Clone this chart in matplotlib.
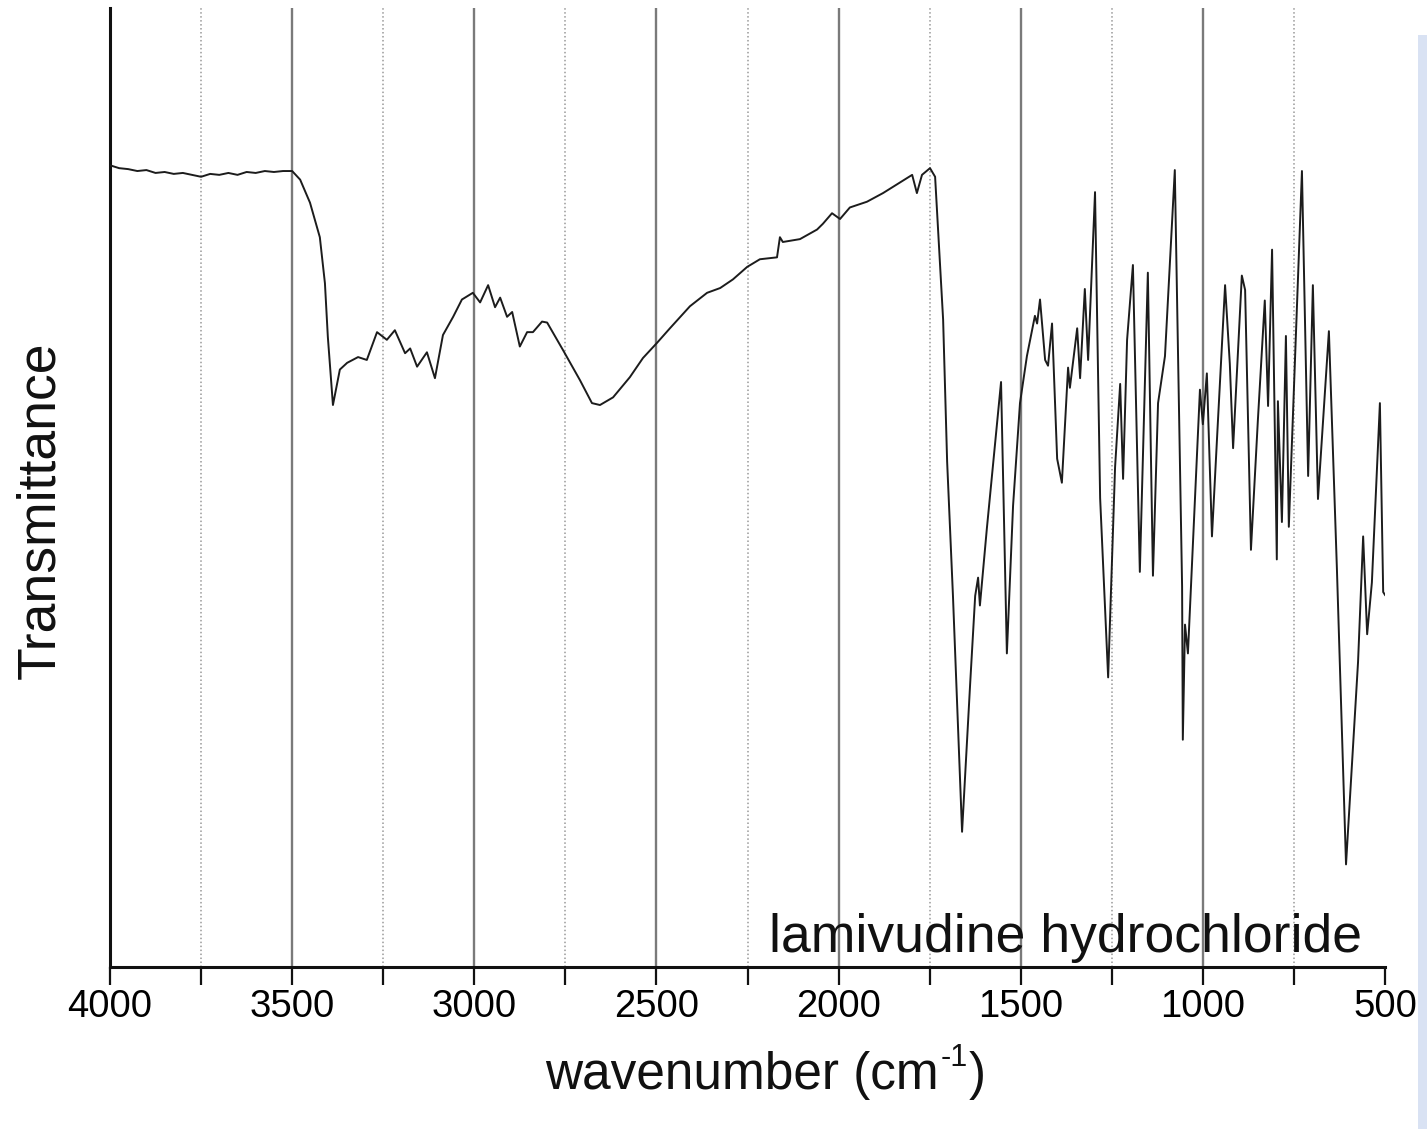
import matplotlib
matplotlib.use('Agg')
import matplotlib.pyplot as plt
from matplotlib.patches import Rectangle

plt.rcParams['font.family'] = ['Liberation Sans', 'DejaVu Sans']

# IR spectrum (wavenumber in cm-1, transmittance in arbitrary %)
wavenumber = [4000, 3975, 3950, 3925, 3900, 3875, 3850, 3825, 3800, 3775, 3750, 3725, 3700,
              3675, 3650, 3625, 3600, 3575, 3550, 3525, 3500, 3478, 3451, 3424, 3410, 3402,
              3388, 3369, 3349, 3319, 3295, 3267, 3240, 3218, 3190, 3176, 3157, 3130, 3108,
              3086, 3058, 3034, 3004, 2984, 2962, 2943, 2929, 2910, 2896, 2875, 2855, 2839,
              2814, 2800, 2756, 2710, 2677, 2655, 2619, 2573, 2537, 2498, 2463, 2408, 2361,
              2325, 2290, 2251, 2216, 2169, 2161, 2153, 2106, 2059, 2043, 2018, 1996, 1969,
              1922, 1878, 1823, 1798, 1785, 1771, 1749, 1735, 1722, 1713, 1702, 1686, 1661,
              1639, 1625, 1617, 1612, 1593, 1554, 1538, 1521, 1502, 1483, 1461, 1455, 1447,
              1433, 1425, 1414, 1400, 1387, 1370, 1365, 1345, 1337, 1324, 1315, 1296, 1282,
              1260, 1241, 1227, 1219, 1208, 1192, 1173, 1151, 1137, 1123, 1104, 1077, 1057,
              1055, 1049, 1041, 1008, 1000, 989, 975, 961, 939, 926, 917, 893, 884, 868, 849,
              830, 821, 810, 797, 794, 783, 772, 764, 728, 711, 698, 684, 654, 632, 607, 574,
              560, 549, 536, 514, 505, 500]
transmittance = [83.6, 83.3, 83.2, 83.0, 83.1, 82.8, 82.9, 82.7, 82.8, 82.6, 82.4, 82.7, 82.6,
                 82.8, 82.6, 82.9, 82.8, 83.0, 82.9, 83.0, 83.0, 82.1, 79.7, 76.1, 71.3, 65.7,
                 58.6, 62.3, 63.0, 63.6, 63.3, 66.2, 65.4, 66.4, 64.0, 64.5, 62.6, 64.1, 61.4,
                 65.9, 67.8, 69.6, 70.3, 69.3, 71.1, 68.8, 69.8, 67.8, 68.3, 64.7, 66.2, 66.2,
                 67.3, 67.2, 64.3, 61.2, 58.8, 58.6, 59.4, 61.5, 63.5, 65.1, 66.6, 68.9, 70.3,
                 70.8, 71.7, 73.0, 73.8, 74.0, 76.1, 75.6, 75.9, 76.9, 77.5, 78.6, 78.0, 79.2,
                 79.8, 80.7, 82.0, 82.6, 80.7, 82.6, 83.3, 82.4, 73.5, 67.5, 52.7, 38.7, 14.1,
                 29.4, 38.7, 40.6, 37.7, 45.7, 61.0, 32.7, 48.1, 58.8, 63.7, 67.9, 67.1, 69.6,
                 63.3, 62.7, 67.1, 53.0, 50.5, 62.5, 60.4, 66.6, 61.4, 70.7, 63.3, 80.8, 48.9,
                 30.2, 52.1, 60.8, 50.9, 65.4, 73.2, 41.2, 72.4, 40.8, 58.8, 63.7, 83.1, 39.7,
                 23.7, 35.7, 32.7, 60.2, 56.6, 61.9, 44.9, 55.2, 71.1, 62.9, 54.1, 72.1, 70.6,
                 43.5, 57.0, 69.5, 58.5, 74.8, 42.5, 59.0, 46.4, 65.8, 45.9, 83.0, 51.2, 71.1,
                 48.8, 66.3, 41.5, 10.7, 31.8, 44.9, 34.7, 40.1, 58.8, 39.1, 38.8]

major_ticks = [4000, 3500, 3000, 2500, 2000, 1500, 1000, 500]
solid_grid = [3500, 3000, 2500, 2000, 1500, 1000]
dotted_grid = [3750, 3250, 2750, 2250, 1750, 1250, 750]
minor_ticks = dotted_grid

W, H = 1427, 1129
fig = plt.figure(figsize=(W / 100, H / 100), dpi=100)
ax = fig.add_axes([110 / W, 162 / H, 1275 / W, 959 / H])

for g in solid_grid:
    ax.axvline(g, color='#7a7a7a', lw=1.7, zorder=1)
for g in dotted_grid:
    ax.axvline(g, color='#999999', lw=1.1, ls=(0, (1, 1.6)), zorder=1)

ax.plot(wavenumber, transmittance, color='#1c1c1c', lw=1.4, zorder=3)

ax.set_xlim(4000, 500)
ax.set_ylim(0, 100)
ax.set_xticks(major_ticks)
ax.set_xticks(minor_ticks, minor=True)
ax.set_yticks([])
ax.tick_params(axis='x', which='both', direction='out', length=13, width=1.6, color='#111111')
ax.tick_params(axis='x', which='major', labelsize=27.5, pad=3)
for s in ['top', 'right']:
    ax.spines[s].set_visible(False)
for s in ['left', 'bottom']:
    ax.spines[s].set_linewidth(2.2)
    ax.spines[s].set_color('#111111')

ax.text(0.982, 0.004, 'lamivudine hydrochloride', transform=ax.transAxes,
        ha='right', va='bottom', fontsize=38.5, color='#111111', zorder=4)

# x label built from pieces so that the superscript is a short hyphen like the original
t1 = fig.text(545 / W, 1 - 1075 / H, 'wavenumber (cm', ha='left', va='center',
              fontsize=37, color='#111111')
fig.canvas.draw()
r = fig.canvas.get_renderer()
bb = t1.get_window_extent(r)
t2 = fig.text(bb.x1 / W + 2 / W, 1 - 1058 / H, '-1', ha='left', va='center',
              fontsize=22, color='#111111')
bb2 = t2.get_window_extent(r)
fig.text(bb2.x1 / W + 1 / W, 1 - 1075 / H, ')', ha='left', va='center',
         fontsize=37, color='#111111')

fig.text(40 / W, 1 - 510 / H, 'Transmittance', rotation=90,
         ha='center', va='center', fontsize=38.5, color='#111111')

# pale blue strip at the right edge of the picture
fig.patches.append(Rectangle((1418 / W, 0), 9 / W, 1 - 35 / H, transform=fig.transFigure,
                             facecolor='#d9e2f3', edgecolor='none', zorder=10))

fig.savefig('out.png', dpi=100)
